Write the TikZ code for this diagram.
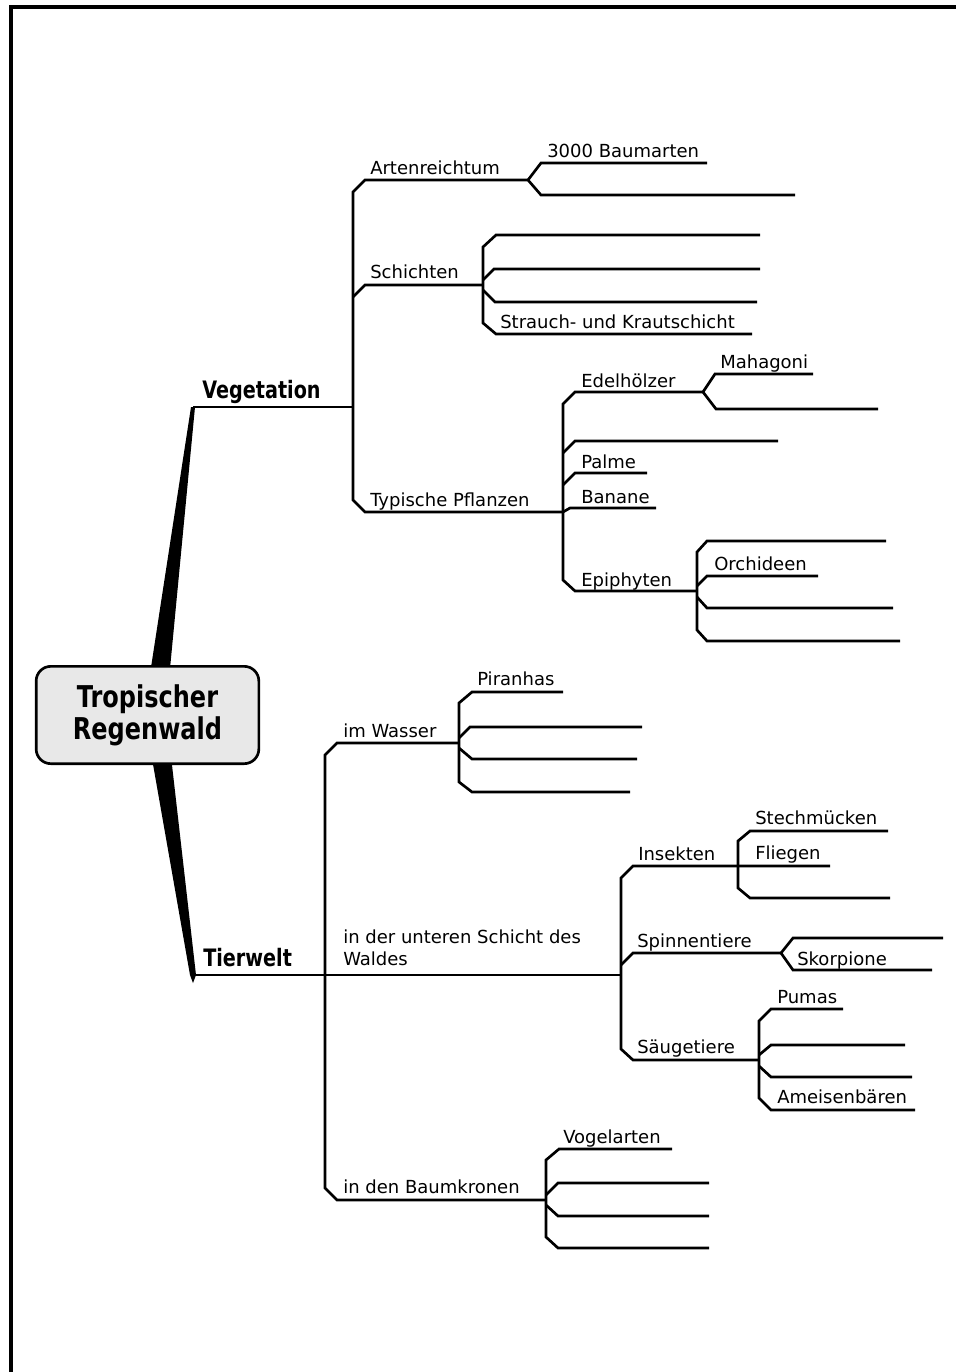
\documentclass[tikz,border=0pt]{standalone}
\usepackage{fontspec}
\setmainfont{DejaVu Sans}
\newfontfamily\bfnt[FakeStretch=0.8,BoldFont={* Bold}]{DejaVu Sans}
\begin{document}
\begin{tikzpicture}[x=0.75pt,y=-0.75pt,
  br/.style={line width=2pt},
  lbl/.style={anchor=base west,inner sep=0pt,font=\fontsize{13.5}{16}\selectfont},
  main/.style={anchor=base west,inner sep=0pt,font=\bfnt\bfseries\fontsize{18}{20}\selectfont},
  wedge/.style={fill=black}]
\useasboundingbox (0,0) rectangle (956,1372);
\draw[line width=2.5pt] (11,1372) -- (11,7) -- (956,7);

% wedges from root
\coordinate (veg) at (193,407);
\coordinate (tier) at (193,975);
\fill[wedge] (146,700) -- (167,700) -- (195,407) -- (191,407) -- cycle;
\fill[wedge] (147,730) -- (168,730) -- (196,975) -- (193,983) -- (190,975) -- cycle;

\node[draw,line width=2pt,rounded corners=11pt,fill=black!9,
  minimum width=167pt,minimum height=73pt,align=center,inner sep=0pt,
  font=\bfnt\bfseries\fontsize{22.5}{24}\selectfont] (root) at (147.5,715) {Tropischer\\Regenwald};

\node[main] (nveg) at (202,398) {Vegetation};
\node[main] (ntier) at (203,966) {Tierwelt};

% ---------- Vegetation ----------
\draw[br] (veg) -- (353,407);
\draw[br] (528,180) -- (365,180) -- (353,192) -- (353,500) -- (365,512) -- (563,512);
\draw[br] (353,297) -- (365,285) -- (483,285);
\node[lbl] (art) at (370,174) {Artenreichtum};
\node[lbl] (sch) at (370,278) {Schichten};
\node[lbl] (typ) at (370,506) {Typische Pflanzen};

\draw[br] (707,163) -- (541,163) -- (528,180) -- (541,195) -- (795,195);
\node[lbl] (bau) at (547,157) {3000 Baumarten};

\draw[br] (760,235) -- (496,235) -- (483,247) -- (483,323) -- (496,334) -- (752,334);
\draw[br] (483,280) -- (494,269) -- (760,269);
\draw[br] (483,290) -- (495,302) -- (757,302);
\node[lbl] (str) at (500,328) {Strauch- und Krautschicht};

\draw[br] (703,392) -- (575,392) -- (563,404) -- (563,580) -- (575,591) -- (697,591);
\draw[br] (813,374) -- (715,374) -- (703,392) -- (716,409) -- (878,409);
\draw[br] (563,453) -- (575,441) -- (778,441);
\draw[br] (563,485) -- (575,473) -- (647,473);
\draw[br] (563,512) -- (570,508) -- (656,508);
\node[lbl] (ede) at (581,387) {Edelhölzer};
\node[lbl] (mah) at (720,368) {Mahagoni};
\node[lbl] (pal) at (581,468) {Palme};
\node[lbl] (ban) at (581,503) {Banane};
\node[lbl] (epi) at (581,586) {Epiphyten};

\draw[br] (886,541) -- (707,541) -- (697,552) -- (697,630) -- (707,641) -- (900,641);
\draw[br] (697,586) -- (707,576) -- (818,576);
\draw[br] (697,597) -- (707,608) -- (893,608);
\node[lbl] (orc) at (714,570) {Orchideen};

% ---------- Tierwelt ----------
\draw[br] (tier) -- (621,975);
\draw[br] (459,743) -- (337,743) -- (325,755) -- (325,1188) -- (337,1200) -- (546,1200);
\node[lbl] (was) at (343,737) {im Wasser};
\node[lbl,align=left,anchor=north west,font=\fontsize{13.5}{16.5}\selectfont] (unt) at (343,930) {in der unteren Schicht des\\Waldes};
\node[lbl] (kro) at (343,1193) {in den Baumkronen};

\draw[br] (563,692) -- (472,692) -- (459,703) -- (459,782) -- (472,792) -- (630,792);
\draw[br] (459,738) -- (470,727) -- (642,727);
\draw[br] (459,748) -- (472,759) -- (637,759);
\node[lbl] (pir) at (477,685) {Piranhas};

\draw[br] (830,866) -- (633,866) -- (621,878) -- (621,1049) -- (633,1060) -- (759,1060);
\draw[br] (888,831) -- (750,831) -- (738,841) -- (738,888) -- (750,898) -- (890,898);
\draw[br] (621,965) -- (633,953) -- (781,953);
\draw[br] (943,938) -- (793,938) -- (781,953) -- (793,970) -- (932,970);
\node[lbl] (ins) at (638,860) {Insekten};
\node[lbl] (ste) at (755,824) {Stechmücken};
\node[lbl] (fli) at (755,859) {Fliegen};
\node[lbl] (spi) at (637,947) {Spinnentiere};
\node[lbl] (sko) at (797,965) {Skorpione};
\node[lbl] (sae) at (637,1053) {Säugetiere};

\draw[br] (843,1009) -- (771,1009) -- (759,1021) -- (759,1098) -- (771,1110) -- (915,1110);
\draw[br] (759,1055) -- (771,1045) -- (905,1045);
\draw[br] (759,1066) -- (771,1077) -- (912,1077);
\node[lbl] (pum) at (777,1003) {Pumas};
\node[lbl] (ame) at (777,1103) {Ameisenbären};

\draw[br] (672,1149) -- (559,1149) -- (546,1160) -- (546,1237) -- (558,1248) -- (709,1248);
\draw[br] (546,1195) -- (558,1183) -- (709,1183);
\draw[br] (546,1205) -- (558,1216) -- (709,1216);
\node[lbl] (vog) at (563,1143) {Vogelarten};
\end{tikzpicture}
\end{document}
